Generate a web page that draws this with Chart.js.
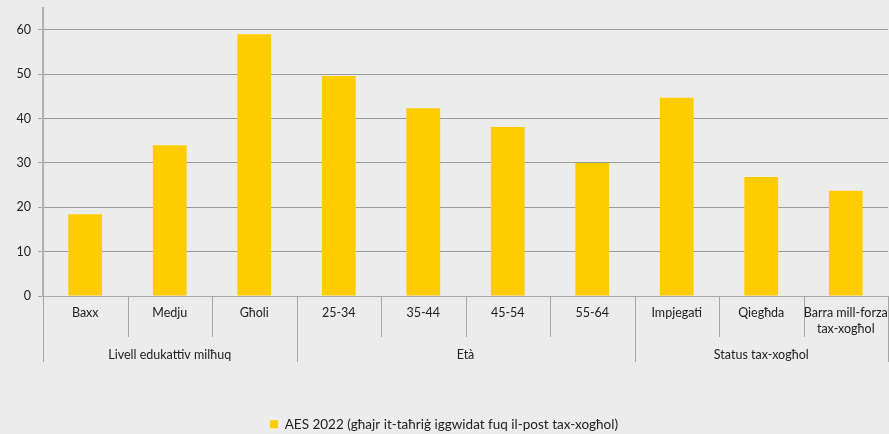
<!DOCTYPE html>
<html>
<head>
<meta charset="utf-8">
<script src="https://cdn.jsdelivr.net/npm/chart.js@4/dist/chart.umd.min.js"></script>
<style>
    body { margin: 0; background: #ececec; }
    #wrap { width: 889px; height: 434px; position: relative; }
</style>
</head>
<body>
<div id="wrap"><canvas id="aesChart"></canvas></div>
<script>
// Categories and values
const categories = [['Baxx'], ['Medju'], ['Għoli'], ['25-34'], ['35-44'], ['45-54'], ['55-64'],
    ['Impjegati'], ['Qiegħda'], ['Barra mill-forza', 'tax-xogħol']];
const groups = [
    { label: 'Livell edukattiv milħuq', from: 0, to: 2 },
    { label: 'Età', from: 3, to: 6 },
    { label: 'Status tax-xogħol', from: 7, to: 9 }
];
const aesValues = [18.4, 34.0, 59.0, 49.6, 42.3, 38.1, 30.0, 44.7, 26.8, 23.7];
const yTicks = [0, 10, 20, 30, 40, 50, 60];
const seriesName = 'AES 2022 (għajr it-taħriġ iggwidat fuq il-post tax-xogħol)';

const fontFamily = 'Lato, "Open Sans", sans-serif';
const textColor = '#222222';
const lineColor = '#a6a6a6';

// Draws the two-level category labels and the separators below the x axis
const groupAxis = {
    id: 'groupAxis',
    afterDraw(chart) {
        const ctx = chart.ctx;
        const x = chart.scales.x;
        const area = chart.chartArea;
        const base = area.bottom;

        function edge(i) {
            if (i <= 0) return area.left;
            if (i >= categories.length) return area.right;
            return (x.getPixelForValue(i - 1) + x.getPixelForValue(i)) / 2;
        }

        const groupEdges = [0];
        groups.forEach(g => groupEdges.push(g.to + 1));

        ctx.save();
        ctx.strokeStyle = lineColor;
        ctx.lineWidth = 1;
        for (let i = 0; i <= categories.length; i++) {
            const px = Math.round(edge(i)) + 0.5;
            const long = groupEdges.includes(i);
            ctx.beginPath();
            ctx.moveTo(px, base);
            ctx.lineTo(px, long ? base + 66 : base + 41);
            ctx.stroke();
        }

        ctx.fillStyle = textColor;
        ctx.font = '12.5px ' + fontFamily;
        ctx.textAlign = 'center';
        ctx.textBaseline = 'middle';
        categories.forEach((lines, i) => {
            const cx = x.getPixelForValue(i);
            lines.forEach((t, k) => {
                ctx.fillText(t, cx, base + 17 + k * 16);
            });
        });

        groups.forEach(g => {
            const cx = (edge(g.from) + edge(g.to + 1)) / 2;
            ctx.fillText(g.label, cx, base + 59);
        });
        ctx.restore();
    }
};

const chartCtx = document.getElementById('aesChart').getContext('2d');
new Chart(chartCtx, {
    type: 'bar',
    data: {
        labels: categories.map(c => c.join(' ')),
        datasets: [{
            label: seriesName,
            data: aesValues,
            backgroundColor: '#ffcc00',
            borderWidth: 0,
            barPercentage: 0.4,
            categoryPercentage: 1.0
        }]
    },
    options: {
        responsive: true,
        maintainAspectRatio: false,
        animation: false,
        layout: { padding: { top: 0, right: 1, left: 0, bottom: -7 } },
        plugins: {
            tooltip: { enabled: false },
            legend: {
                position: 'bottom',
                labels: {
                    boxWidth: 8,
                    boxHeight: 8,
                    padding: 1,
                    color: textColor,
                    font: { family: fontFamily, size: 13.5 }
                }
            }
        },
        scales: {
            x: {
                ticks: { display: false },
                grid: { display: false },
                border: { display: true, color: lineColor, width: 1 },
                afterFit(scale) { scale.height = 120.5; }
            },
            y: {
                min: 0,
                max: 65,
                afterBuildTicks(scale) {
                    scale.ticks = yTicks.map(v => ({ value: v })).concat([{ value: 65 }]);
                },
                afterFit(scale) { scale.width = 43; },
                ticks: {
                    color: textColor,
                    padding: 7,
                    font: { family: fontFamily, size: 12.5, lineHeight: 0.1 },
                    callback: v => (yTicks.includes(v) ? v : '')
                },
                grid: {
                    color: c => (c.tick && c.tick.value === 65 ? 'rgba(0,0,0,0)' : '#9a9a9a'),
                    borderDash: [2, 1],
                    tickColor: c => (c.tick && c.tick.value === 65 ? 'rgba(0,0,0,0)' : lineColor),
                    tickBorderDash: [],
                    tickLength: 5,
                    lineWidth: 1
                },
                border: { display: true, color: '#b0b0b0', width: 2 }
            }
        }
    },
    plugins: [groupAxis]
});
</script>
</body>
</html>
